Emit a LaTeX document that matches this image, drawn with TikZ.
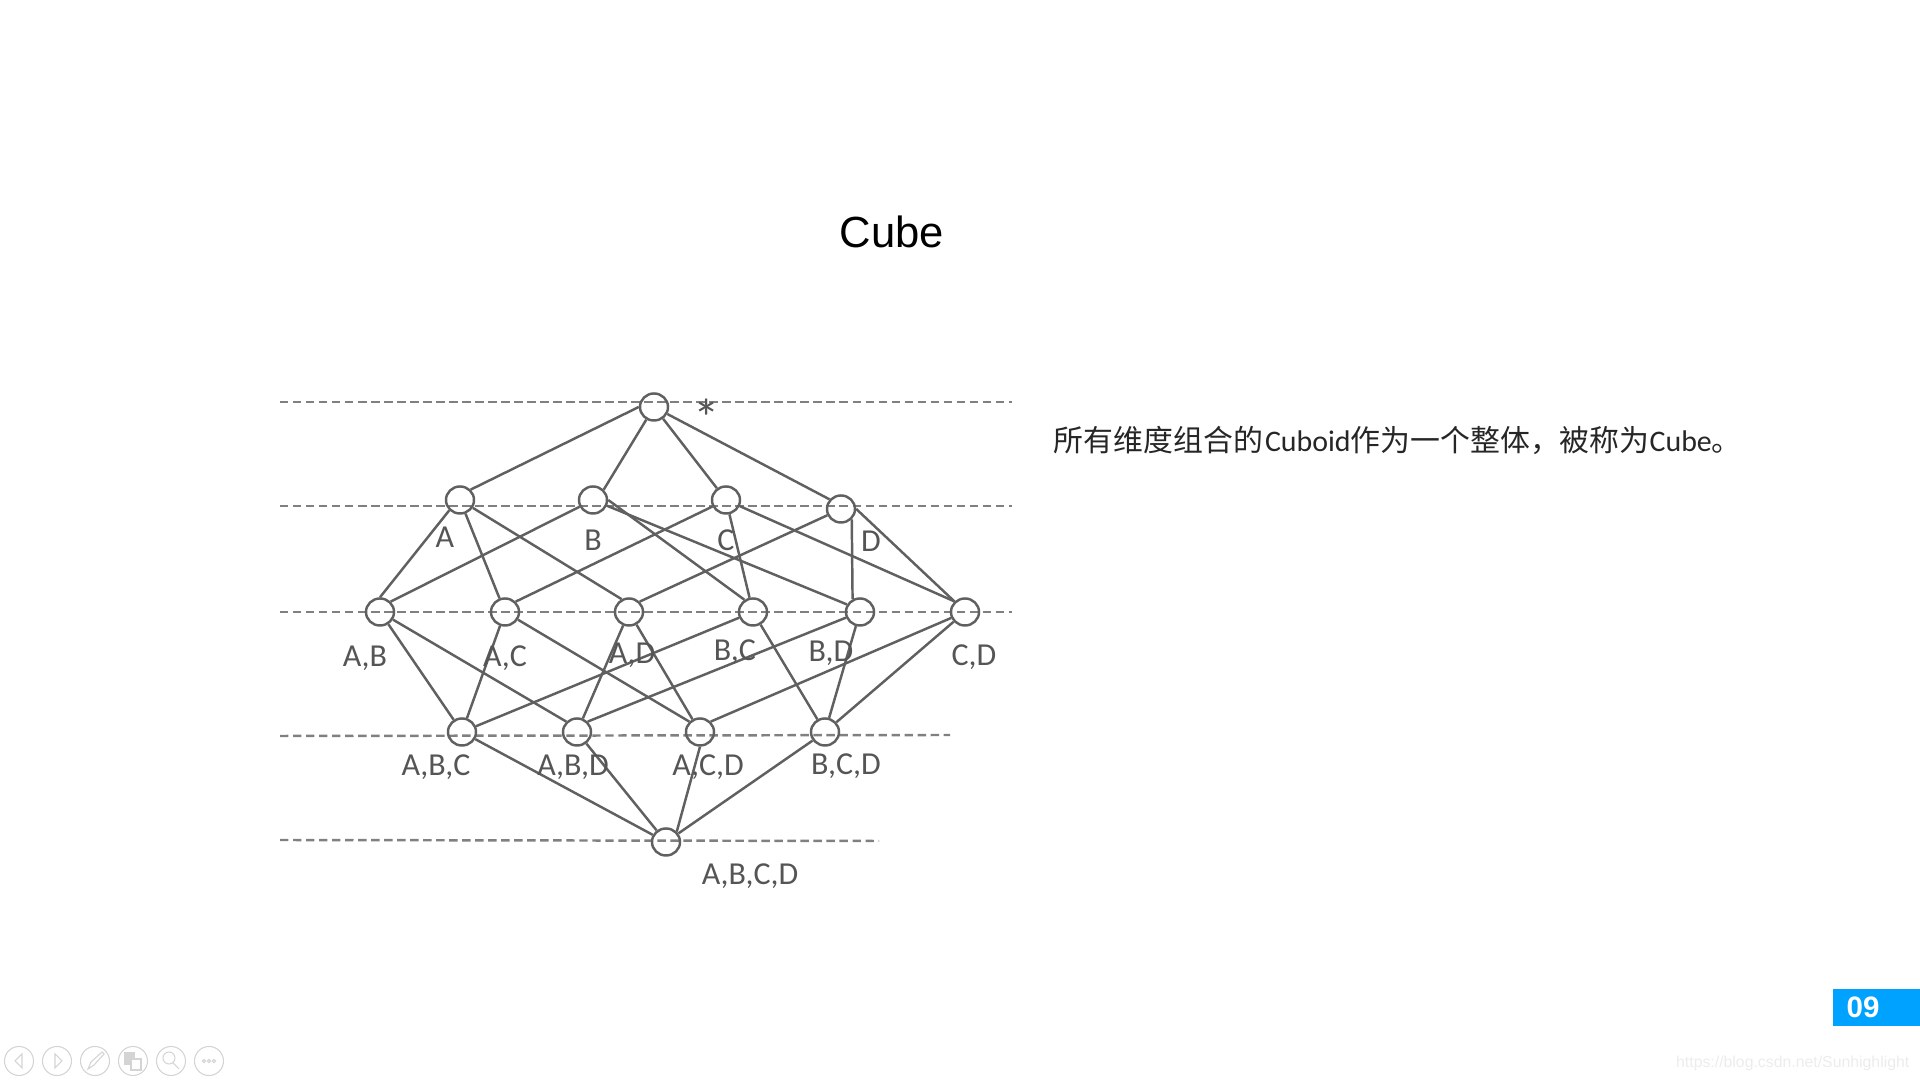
\documentclass[tikz,border=0pt]{standalone}
\usepackage{fontspec}
\setmainfont{Liberation Sans}
\newfontfamily\cjk{Noto Sans CJK SC}
\newfontfamily\labelfont{Carlito}
\usepackage{xcolor}
\definecolor{colorLine}{HTML}{606060}
\definecolor{colorDash}{HTML}{808080}
\definecolor{colorLabel}{HTML}{555555}
\definecolor{colorBadge}{HTML}{00A2FF}
\definecolor{colorTool}{HTML}{D4D4D4}
\definecolor{colorMark}{HTML}{ECECEC}
\usetikzlibrary{shapes.geometric}
\tikzset{
  cuboid/.style={ellipse, draw=colorLine, line width=0.7pt, minimum width=0.28cm, minimum height=0.27cm, inner sep=0pt},
  link/.style={draw=colorLine, line width=0.7pt},
  level/.style={colorDash, line width=0.7pt, dash pattern=on 2.4pt off 1.3pt},
  dimlabel/.style={text=colorLabel, inner sep=0pt, font=\labelfont\fontsize{9.1}{11}\selectfont},
  tool/.style={circle, draw=colorTool, line width=0.3pt, minimum size=0.29cm, inner sep=0pt},
  toolmark/.style={draw=colorTool, line width=0.3pt},
}

\begin{document}
\begin{tikzpicture}[x=0.01cm, y=-0.01cm]
\useasboundingbox (0,0) rectangle (1920,1080);
\node[font=\fontsize{12.4}{15}\selectfont] (title) at (892,232) {Cube};
\node[anchor=west, inner sep=0pt, text=black!85, font=\fontsize{8.5}{11}\selectfont] (note) at (1053,440) {\cjk 所有维度组合的\hspace{0.6pt}{\labelfont Cuboid}作为一个整体，被称为{\labelfont Cube}。};
\coordinate (e0w) at (280,402);
\coordinate (e0e) at (1012,402);
\coordinate (e1w) at (280,506);
\coordinate (e1e) at (1012,506);
\coordinate (e2w) at (280,612);
\coordinate (e2e) at (1012,612);
\coordinate (e3w) at (280,736);
\coordinate (e3e) at (950,735);
\coordinate (e4w) at (280,840);
\coordinate (e4e) at (879,841);
\draw [level] (e0w) -- (e0e);
\draw [level] (e1w) -- (e1e);
\draw [level] (e2w) -- (e2e);
\draw [level] (e3w) -- (e3e);
\draw [level] (e4w) -- (e4e);
\node[cuboid] (nApex) at (654,407) {};
\node[cuboid] (nA) at (460,500) {};
\node[cuboid] (nB) at (593,500) {};
\node[cuboid] (nC) at (726,500) {};
\node[cuboid] (nD) at (841,509) {};
\node[cuboid] (nAB) at (380,612) {};
\node[cuboid] (nAC) at (505,612) {};
\node[cuboid] (nAD) at (629,612) {};
\node[cuboid] (nBC) at (753,612) {};
\node[cuboid] (nBD) at (860,612) {};
\node[cuboid] (nCD) at (965,612) {};
\node[cuboid] (nABC) at (462,732) {};
\node[cuboid] (nABD) at (577,732) {};
\node[cuboid] (nACD) at (700,732) {};
\node[cuboid] (nBCD) at (825,732) {};
\node[cuboid] (nABCD) at (666,842) {};
\draw [link] (nApex.west) edge (nA.north east);
\draw [link] (nApex) edge (nB.north east);
\draw [link] (nApex) edge (nC);
\draw [link] (nApex) edge (nD.140);
\draw [link] (nA.south west) edge (nAB.north);
\draw [link] (nA) edge (nAC);
\draw [link] (nA) edge (nAD.120);
\draw [link] (nB) edge (nAB.north east);
\draw [link] (nB.east) edge (nBC.125);
\draw [link] (nB) edge (nBD.150);
\draw [link] (nC) edge (nAC.north east);
\draw [link] (nC) edge (nBC);
\draw [link] (nC) edge (nCD.135);
\draw [link] (nD) edge (nAD.north east);
\draw [link] (nD.south east) edge (nBD.120);
\draw [link] (nD.east) edge (nCD.135);
\draw [link] (nAB) edge (nABC);
\draw [link] (nAB) edge (nABD.north west);
\draw [link] (nAC) edge (nABC);
\draw [link] (nAC) edge (nACD.north west);
\draw [link] (nAD) edge (nABD);
\draw [link] (nAD) edge (nACD);
\draw [link] (nBC) edge (nABC);
\draw [link] (nBC) edge (nBCD);
\draw [link] (nBD) edge (nABD.north east);
\draw [link] (nBD) edge (nBCD);
\draw [link] (nCD) edge (nACD.north east);
\draw [link] (nCD) edge (nBCD);
\draw [link] (nABC) edge (nABCD);
\draw [link] (nABD) edge (nABCD);
\draw [link] (nACD.south) edge (nABCD.north east);
\draw [link] (nBCD) edge (nABCD);
\node[dimlabel, font=\labelfont\fontsize{15}{17}\selectfont] (lApex) at (707,418) {*};
\node[dimlabel] (lA) at (445,537) {A};
\node[dimlabel] (lB) at (593,540) {B};
\node[dimlabel] (lC) at (726,540) {C};
\node[dimlabel] (lD) at (871,541) {D};
\node[dimlabel] (lAB) at (365,658) {A,B};
\node[dimlabel] (lAC) at (505,658) {A,C};
\node[dimlabel] (lAD) at (632,655) {A,D};
\node[dimlabel] (lBC) at (735,652) {B,C};
\node[dimlabel] (lBD) at (831,653) {B,D};
\node[dimlabel] (lCD) at (974,657) {C,D};
\node[dimlabel] (lABC) at (436,767) {A,B,C};
\node[dimlabel] (lABD) at (573,767) {A,B,D};
\node[dimlabel] (lACD) at (708,767) {A,C,D};
\node[dimlabel] (lBCD) at (846,766) {B,C,D};
\node[dimlabel] (lABCD) at (750,876) {A,B,C,D};
\fill [colorBadge] (1833,989) rectangle (1920,1026);
\node[text=white, font=\bfseries\fontsize{8.4}{10}\selectfont] (page) at (1863,1007) {09};
\node[anchor=east, inner sep=0pt, text=colorMark, font=\fontsize{4.5}{6}\selectfont] (mark) at (1910,1063) {https://blog.csdn.net/Sunhighlight};
\node[tool] (tPrev) at (19,1061) {};
\node[tool] (tNext) at (57,1061) {};
\node[tool] (tPen) at (95,1061) {};
\node[tool] (tCopy) at (133,1061) {};
\node[tool] (tZoom) at (171,1061) {};
\node[tool] (tMore) at (209,1061) {};
\draw [toolmark] (22,1054) -- (15,1061) -- (22,1068) -- cycle;
\draw [toolmark] (55,1054) -- (62,1061) -- (55,1068) -- cycle;
\draw [toolmark] (88,1069) -- (91,1062) -- (102,1052) -- (104,1054) -- (94,1065) -- cycle;
\draw [toolmark, fill=colorTool] (125,1053) rectangle (134,1064);
\draw [toolmark, fill=white] (131,1059) rectangle (141,1070);
\draw [toolmark] (169,1058) circle (6);
\draw [toolmark] (173,1063) -- (179,1069);
\draw [toolmark] (204,1061) circle (1.7);
\draw [toolmark] (209,1061) circle (1.7);
\draw [toolmark] (214,1061) circle (1.7);
\end{tikzpicture}
\end{document}
